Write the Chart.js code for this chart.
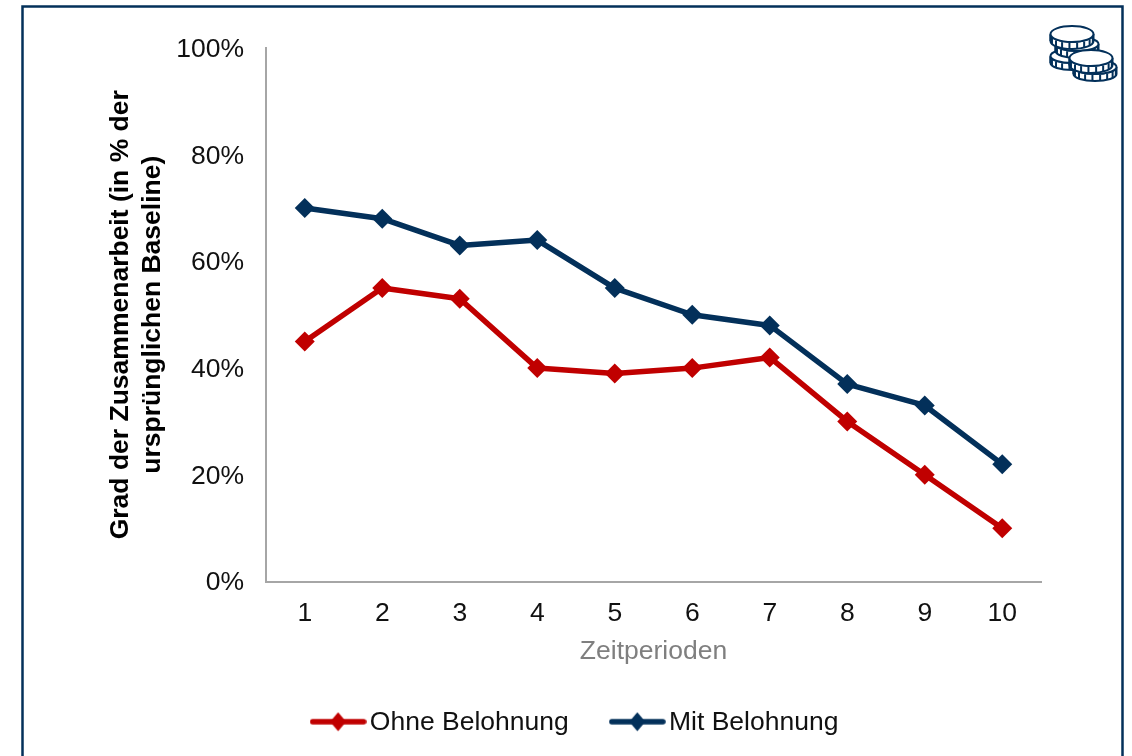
<!DOCTYPE html>
<html lang="de">
<head>
<meta charset="utf-8">
<title>Grad der Zusammenarbeit</title>
<style>
  html, body { margin: 0; padding: 0; background: #fff; overflow: hidden; }
  canvas { display: block; }
</style>
</head>
<body>
<canvas id="chart" width="1132" height="756"></canvas>
<script src="https://cdn.jsdelivr.net/npm/chart.js@4"></script>
<script>
const periods = ['1', '2', '3', '4', '5', '6', '7', '8', '9', '10'];
const ohneBelohnung = [45, 55, 53, 40, 39, 40, 42, 30, 20, 10];
const mitBelohnung = [70, 68, 63, 64, 55, 50, 48, 37, 33, 22];
const yTitle = ['Grad der Zusammenarbeit (in % der', 'ursprünglichen Baseline)'];
const xTitle = 'Zeitperioden';

const RED = '#c00000';
const NAVY = '#03305a';
const FONT = '"Liberation Sans", Arial, sans-serif';
const FONT_SIZE = 26.5;

// line with a diamond on it, used as the legend symbol
function legendSymbol(color) {
  const c = document.createElement('canvas');
  c.width = 57;
  c.height = 22;
  const ctx = c.getContext('2d');
  ctx.strokeStyle = color;
  ctx.fillStyle = color;
  ctx.lineWidth = 5.5;
  ctx.lineCap = 'round';
  ctx.beginPath();
  ctx.moveTo(3, 10);
  ctx.lineTo(54, 10);
  ctx.stroke();
  ctx.beginPath();
  ctx.moveTo(28.5, 0.5);
  ctx.lineTo(36.5, 10);
  ctx.lineTo(28.5, 19.5);
  ctx.lineTo(20.5, 10);
  ctx.closePath();
  ctx.fill();
  return c;
}

const legendSymbols = [legendSymbol(RED), legendSymbol(NAVY)];

function drawCoin(ctx, x, y, rx, ry, h) {
  ctx.beginPath();
  ctx.ellipse(x, y + h, rx, ry, 0, 0, Math.PI);
  ctx.lineTo(x - rx, y);
  ctx.ellipse(x, y, rx, ry, 0, Math.PI, 0, true);
  ctx.lineTo(x + rx, y + h);
  ctx.closePath();
  ctx.fillStyle = '#fff';
  ctx.fill();
  ctx.stroke();
  // reeded edge
  for (let a = 0.25; a < Math.PI; a += 0.36) {
    const px = x + Math.cos(a) * rx;
    const py = y + Math.sin(a) * ry;
    ctx.beginPath();
    ctx.moveTo(px, py + 1);
    ctx.lineTo(px, py + h);
    ctx.stroke();
  }
  ctx.beginPath();
  ctx.ellipse(x, y, rx, ry, 0, 0, Math.PI * 2);
  ctx.fillStyle = '#fff';
  ctx.fill();
  ctx.stroke();
}

const framePlugin = {
  id: 'frame',
  beforeDraw(chart) {
    const ctx = chart.ctx;
    ctx.save();
    ctx.fillStyle = '#fff';
    ctx.fillRect(0, 0, chart.width, chart.height);
    ctx.strokeStyle = NAVY;
    ctx.lineWidth = 2.5;
    ctx.beginPath();
    ctx.moveTo(22.5, 760);
    ctx.lineTo(22.5, 6.5);
    ctx.lineTo(1122.5, 6.5);
    ctx.lineTo(1122.5, 760);
    ctx.stroke();
    ctx.restore();
  },
  afterDraw(chart) {
    const ctx = chart.ctx;
    ctx.save();
    ctx.strokeStyle = NAVY;
    ctx.lineWidth = 2;
    drawCoin(ctx, 1072, 56, 21.5, 7, 7);
    drawCoin(ctx, 1077, 44, 21.5, 7, 7);
    drawCoin(ctx, 1072, 34, 21.5, 8, 7);
    drawCoin(ctx, 1095, 67, 21.5, 7, 7);
    drawCoin(ctx, 1091, 58, 21.5, 8, 7);
    ctx.restore();
  }
};

new Chart(document.getElementById('chart'), {
  type: 'line',
  data: {
    labels: periods,
    datasets: [
      {
        label: 'Ohne Belohnung',
        data: ohneBelohnung,
        borderColor: RED,
        backgroundColor: RED
      },
      {
        label: 'Mit Belohnung',
        data: mitBelohnung,
        borderColor: NAVY,
        backgroundColor: NAVY
      }
    ]
  },
  options: {
    responsive: false,
    animation: false,
    layout: {
      padding: { left: 117, right: 91, top: 48, bottom: 10 }
    },
    elements: {
      line: { borderWidth: 5.5, tension: 0, borderCapStyle: 'round', borderJoinStyle: 'round' },
      point: { pointStyle: 'rectRot', radius: 10, borderWidth: 0 }
    },
    scales: {
      x: {
        offset: true,
        afterFit(scale) { scale.height = 78; },
        grid: { display: false, drawTicks: false },
        border: { color: '#a6a6a6', width: 2 },
        ticks: {
          autoSkip: false,
          maxRotation: 0,
          padding: 16,
          color: '#111',
          font: { family: FONT, size: FONT_SIZE }
        },
        title: {
          display: true,
          text: xTitle,
          color: '#7f7f7f',
          padding: { top: 0, bottom: -8 },
          font: { family: FONT, size: FONT_SIZE }
        }
      },
      y: {
        min: 0,
        max: 100,
        afterFit(scale) { scale.width = 149; },
        grid: { display: false, drawTicks: false },
        border: { color: '#a6a6a6', width: 2 },
        ticks: {
          stepSize: 20,
          padding: 22,
          labelOffset: 1.5,
          color: '#111',
          font: { family: FONT, size: FONT_SIZE },
          callback: (v) => v + '%'
        },
        title: {
          display: true,
          text: yTitle,
          color: '#000',
          padding: { top: -12.75, bottom: 0 },
          font: { family: FONT, size: FONT_SIZE, weight: 'bold', lineHeight: 1.226 }
        }
      }
    },
    plugins: {
      title: { display: false },
      tooltip: { enabled: false },
      legend: {
        position: 'bottom',
        labels: {
          usePointStyle: true,
          pointStyleWidth: 37,
          padding: 50,
          color: '#111',
          font: { family: FONT, size: FONT_SIZE },
          generateLabels(chart) {
            const items = Chart.defaults.plugins.legend.labels.generateLabels(chart);
            items.forEach((item, i) => { item.pointStyle = legendSymbols[i]; });
            return items;
          }
        }
      }
    }
  },
  plugins: [framePlugin]
});
</script>
</body>
</html>
